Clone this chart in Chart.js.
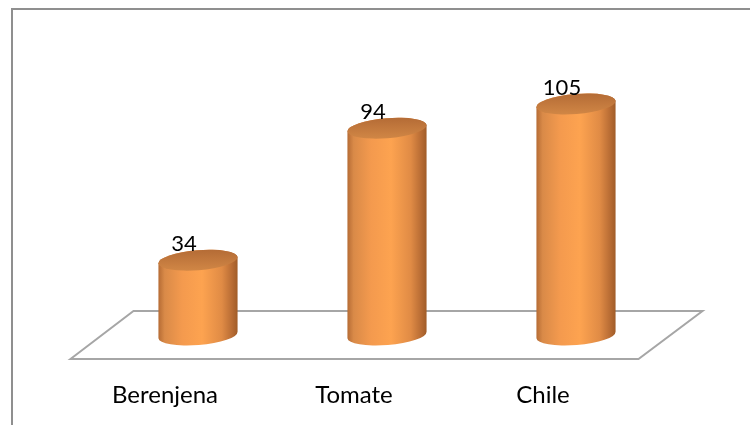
<!DOCTYPE html>
<html>
<head>
<meta charset="utf-8">
<script src="https://cdn.jsdelivr.net/npm/chart.js@4/dist/chart.umd.min.js"></script>
<style>
html, body { margin: 0; padding: 0; background: #fff; overflow: hidden; }
#wrap { position: relative; width: 750px; height: 425px; }
#frame { position: absolute; left: 11px; top: 8px; width: 760px; height: 430px;
         border-top: 2px solid #8f8f8f; border-left: 2px solid #8f8f8f; box-sizing: border-box; }
canvas { position: absolute; left: 0; top: 0; }
</style>
</head>
<body>
<div id="wrap">
  <canvas id="myChart" width="750" height="425"></canvas>
  <div id="frame"></div>
</div>
<script>
const categories = ['Berenjena', 'Tomate', 'Chile'];
const values = [34, 94, 105];
const yMax = 120;

const fontFamily = 'Lato, "Open Sans", sans-serif';

// floor plane + cylinders drawn from the bar elements
const cylinders = {
    id: 'cylinders',
    beforeDatasetsDraw(chart) {
        const {ctx, chartArea, scales} = chart;
        const y0 = scales.y.getPixelForValue(0);
        ctx.save();
        ctx.strokeStyle = '#a6a6a6';
        ctx.lineWidth = 2;
        ctx.beginPath();
        ctx.moveTo(chartArea.left - 33, y0 + 24);
        ctx.lineTo(chartArea.left + 30, y0 - 24);
        ctx.lineTo(chartArea.right + 32, y0 - 24);
        ctx.lineTo(chartArea.right - 32, y0 + 24);
        ctx.closePath();
        ctx.stroke();
        ctx.restore();
    },
    afterDatasetsDraw(chart) {
        const ctx = chart.ctx;
        const meta = chart.getDatasetMeta(0);
        const rot = -0.08;
        meta.data.forEach((el, i) => {
            const cx = el.x, top = el.y, base = el.base;
            const rx = el.width / 2, ry = 10;
            ctx.save();
            // body
            const g = ctx.createLinearGradient(cx - rx, 0, cx + rx, 0);
            g.addColorStop(0, '#b56b34');
            g.addColorStop(0.08, '#d98a48');
            g.addColorStop(0.3, '#f49a4e');
            g.addColorStop(0.55, '#fda350');
            g.addColorStop(0.8, '#e08b45');
            g.addColorStop(0.93, '#b86c34');
            g.addColorStop(1, '#a05c28');
            ctx.fillStyle = g;
            ctx.beginPath();
            ctx.ellipse(cx, base, rx, ry, rot, Math.PI, 0, true);
            ctx.lineTo(cx + rx * Math.cos(rot), top + rx * Math.sin(rot));
            ctx.ellipse(cx, top, rx, ry, rot, 0, Math.PI, true);
            ctx.closePath();
            ctx.fill();
            // top cap
            const gt = ctx.createLinearGradient(0, top - ry, 0, top + ry);
            gt.addColorStop(0, '#b56c36');
            gt.addColorStop(1, '#d08645');
            ctx.fillStyle = gt;
            ctx.beginPath();
            ctx.ellipse(cx, top, rx, ry, rot, 0, Math.PI * 2);
            ctx.fill();
            // value label
            ctx.fillStyle = '#000';
            ctx.font = '22px ' + fontFamily;
            ctx.textAlign = 'center';
            ctx.textBaseline = 'alphabetic';
            ctx.fillText(String(values[i]), cx - 14, top - ry + 1);
            ctx.restore();
        });
    }
};

const data = {
    labels: categories,
    datasets: [{
        data: values,
        backgroundColor: 'rgba(0,0,0,0)',
        borderWidth: 0,
        categoryPercentage: 1,
        barPercentage: 0.42
    }]
};

const config = {
    type: 'bar',
    data,
    options: {
        responsive: false,
        animation: false,
        layout: {
            padding: {left: 103.5, right: 79.5, top: 71, bottom: 0}
        },
        plugins: {
            legend: {display: false},
            tooltip: {enabled: false}
        },
        scales: {
            x: {
                grid: {display: false},
                border: {display: false},
                ticks: {
                    color: '#000',
                    font: {family: fontFamily, size: 24},
                    padding: 38,
                    labelOffset: -33
                },
                afterFit(scale) {
                    scale.height = 90;
                }
            },
            y: {
                display: false,
                min: 0,
                max: yMax
            }
        }
    },
    plugins: [cylinders]
};

let myChart = new Chart(document.getElementById('myChart'), config);
</script>
</body>
</html>
